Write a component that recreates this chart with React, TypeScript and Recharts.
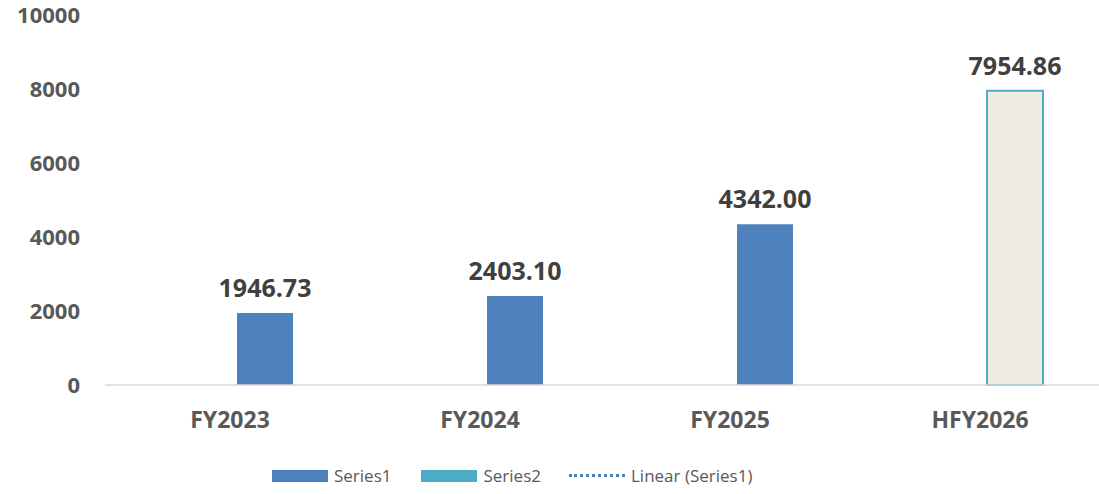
import { Bar, BarChart, XAxis, YAxis, LabelList, Legend } from "recharts";

const categories = ["FY2023", "FY2024", "FY2025", "HFY2026"];
const series1 = [1946.73, 2403.1, 4342.0, null];
const series2 = [null, null, null, 7954.86];
const yTicks = [0, 2000, 4000, 6000, 8000, 10000];

const data = categories.map((name, i) => ({
  name,
  spacer: null,
  series1: series1[i],
  series2: series2[i],
}));

const fmt = (v: any) => (v == null ? "" : Number(v).toFixed(2));

function LegendRow() {
  const text = { fontSize: 17, color: "#595959", fontFamily: "Open Sans" };
  return (
    <div style={{ display: "flex", alignItems: "center", paddingLeft: 272, paddingTop: 20 }}>
      <div style={{ width: 56, height: 12, background: "#4F81BD", marginRight: 6 }} />
      <span style={{ ...text, marginRight: 30 }}>Series1</span>
      <div style={{ width: 56, height: 12, background: "#4BACC6", marginRight: 6 }} />
      <span style={{ ...text, marginRight: 28 }}>Series2</span>
      <div style={{ width: 56, height: 0, borderTop: "3px dotted #4F81BD", marginRight: 6 }} />
      <span style={text}>Linear (Series1)</span>
    </div>
  );
}

export default function App() {
  return (
    <div style={{ position: "absolute", left: 0, top: 0, width: 1099, height: 494, overflow: "hidden", background: "#fff" }}>
      <BarChart
        width={1105}
        height={494}
        data={data}
        margin={{ top: 15, right: 0, left: 0, bottom: 0 }}
        barSize={56}
        barGap={14}
        style={{ fontFamily: "Open Sans" }}
      >
        <XAxis
          dataKey="name"
          height={59}
          tickLine={false}
          axisLine={{ stroke: "#D9D9D9", strokeWidth: 1.5 }}
          tickMargin={21}
          tick={{ fill: "#595959", fontSize: 23, fontWeight: 700 }}
        />
        <YAxis
          width={105}
          domain={[0, 10000]}
          ticks={yTicks}
          axisLine={false}
          tickLine={false}
          tickMargin={19}
          tick={{ fill: "#595959", fontSize: 22, fontWeight: 700 }}
        />
        <Legend verticalAlign="bottom" align="left" height={50} content={() => <LegendRow />} />
        <Bar dataKey="spacer" stackId="z" fill="transparent" isAnimationActive={false} legendType="none" />
        <Bar dataKey="series1" name="Series1" stackId="s" fill="#4F81BD" isAnimationActive={false}>
          <LabelList dataKey="series1" position="top" offset={16} formatter={fmt} fill="#404040" fontSize={25} fontWeight={700} />
        </Bar>
        <Bar dataKey="series2" name="Series2" stackId="s" fill="#EEECE1" stroke="#4BACC6" strokeWidth={2} isAnimationActive={false}>
          <LabelList dataKey="series2" position="top" offset={16} formatter={fmt} fill="#404040" fontSize={25} fontWeight={700} />
        </Bar>
      </BarChart>
    </div>
  );
}
